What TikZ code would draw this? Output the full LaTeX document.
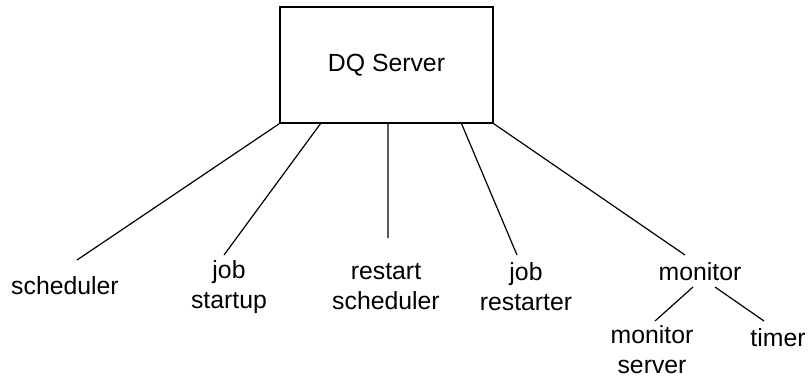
\documentclass[tikz,border=0pt]{standalone}
\usepackage{fontspec}
\setmainfont{Liberation Sans}
\usetikzlibrary{calc}
\begin{document}
\begin{tikzpicture}[x=0.75pt,y=-0.75pt,
  lbl/.style={align=center,inner sep=0pt,font=\fontsize{18.6}{22.5}\selectfont},
  con/.style={line width=0.9pt},
  box/.style={draw,line width=1pt,minimum width=159.75pt,minimum height=87pt,inner sep=0pt,font=\fontsize{18.6}{22.5}\selectfont}]
\useasboundingbox (0,0) rectangle (812,379);
\node[box] (dq) at (386.5,65) {DQ Server};
\node[lbl,anchor=base] (sched) at (65,294) {scheduler};
\node[lbl] (jobs) at (229,287) {job\\startup};
\node[lbl] (rsch) at (386,287) {restart\\scheduler};
\node[lbl] (jobr) at (526,287) {job\\restarter};
\node[lbl,anchor=base] (mon) at (700,280) {monitor};
\node[lbl] (mons) at (652,350) {monitor\\server};
\node[lbl,anchor=base] (tim) at (778,346) {timer};
\coordinate (e1) at (77,260);
\coordinate (e2) at (224,255);
\coordinate (e3) at (388,238);
\coordinate (e4) at (517,255);
\coordinate (e5) at (685,255);
\coordinate (m1) at (693,287);
\coordinate (m2) at (655,321);
\coordinate (t1) at (715,287);
\coordinate (t2) at (764,321);
\draw[con] (dq.south west) -- (e1);
\draw[con] ($(dq.south west)!0.192!(dq.south east)$) -- (e2);
\draw[con] ($(dq.south west)!0.507!(dq.south east)$) -- (e3);
\draw[con] ($(dq.south west)!0.85!(dq.south east)$) -- (e4);
\draw[con] (dq.south east) -- (e5);
\draw[con] (m1) -- (m2);
\draw[con] (t1) -- (t2);
\end{tikzpicture}
\end{document}
